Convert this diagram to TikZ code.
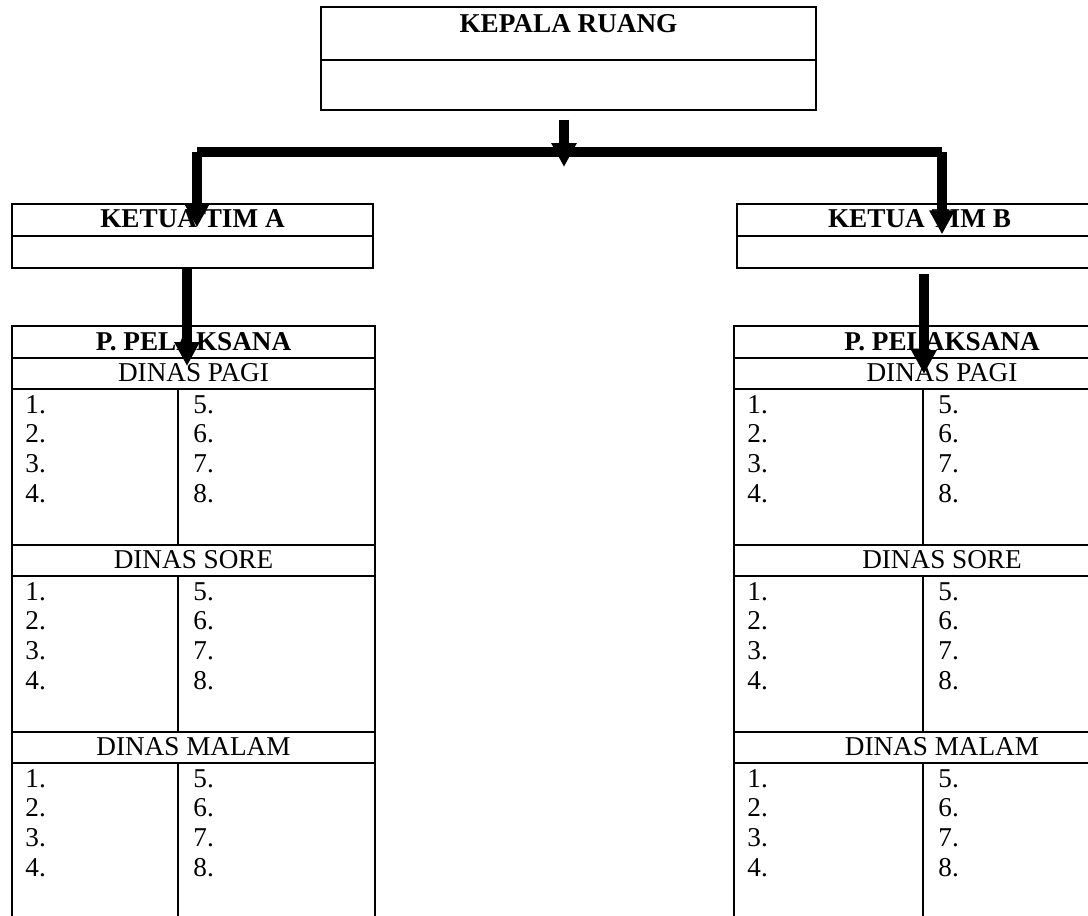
\documentclass[tikz,border=0pt]{standalone}
\usepackage{fontspec}
\setmainfont{Liberation Serif}
\usetikzlibrary{arrows.meta,calc}
\newcommand\orgsize{\fontsize{13.6pt}{16pt}\selectfont}
\begin{document}
\begin{tikzpicture}[x=0.5pt,y=-0.5pt,
  every node/.style={inner sep=0pt},
  thinbox/.style={draw=black, line width=0.65pt, rectangle},
  thinline/.style={draw=black, line width=0.65pt},
  tblbox/.style={draw=black, line width=1pt, rectangle},
  tblline/.style={draw=black, line width=1pt},
  txt/.style={anchor=base, font=\orgsize},
  boldtxt/.style={anchor=base, font=\orgsize\bfseries},
  numtxt/.style={anchor=base west, font=\orgsize},
  flow/.style={line width=4.75pt},
  flowarr/.style={line width=4.75pt, -{Triangle[width=12pt,length=12pt]}},
]
\useasboundingbox (0,0) rectangle (1088,916);
\clip (0,0) rectangle (1088,916);

% head of the ward
\node[thinbox, minimum width=247.5pt, minimum height=51.5pt] (kepala) at (568.5,58.5) {};
\draw[thinline] (kepala.west |- 0,60) -- (kepala.east |- 0,60);
\node[boldtxt] (kepalaT) at (568.5,32) {KEPALA RUANG};

% team leaders
\node[thinbox, minimum width=180.5pt, minimum height=32pt] (ketuaA) at (192.5,236) {};
\draw[thinline] (ketuaA.west) -- (ketuaA.east);
\node[boldtxt] (ketuaAT) at (192.5,227) {KETUA TIM A};

\node[thinbox, minimum width=182.5pt, minimum height=32pt] (ketuaB) at (919.5,236) {};
\draw[thinline] (ketuaB.west) -- (ketuaB.east);
\node[boldtxt] (ketuaBT) at (919.5,227) {KETUA TIM B};

% staff tables (run past the lower edge)
\node[tblbox, minimum width=181.5pt, minimum height=302pt] (tblA) at (193.5,628) {};
\node[tblbox, minimum width=208pt, minimum height=302pt] (tblB) at (942,628) {};

\foreach \tb/\cx/\dx/\lx/\rx in {tblA/193.5/178/25/193, tblB/942/923/747/938}{
  \node[boldtxt] (\tb-title) at (\cx,350) {P. PELAKSANA};
  \foreach \sh [count=\k from 0] in {PAGI,SORE,MALAM}{
    \pgfmathsetmacro{\ytop}{358+187*\k}
    \pgfmathsetmacro{\ymid}{\ytop+31}
    \pgfmathsetmacro{\ybot}{\ytop+187}
    \draw[tblline] (\tb.west |- 0,\ytop) -- (\tb.east |- 0,\ytop);
    \draw[tblline] (\tb.west |- 0,\ymid) -- (\tb.east |- 0,\ymid);
    \draw[tblline] (\dx,\ymid) -- (\dx,\ybot);
    \node[txt] (\tb-h\k) at (\cx,\ytop+23) {DINAS \sh};
    \foreach \n [count=\r from 0] in {1,...,4}{
      \pgfmathtruncatemacro{\m}{\n+4}
      \node[numtxt] (\tb-l\k-\r) at (\lx,\ymid+24+29.7*\r) {\n.};
      \node[numtxt] (\tb-r\k-\r) at (\rx,\ymid+24+29.7*\r) {\m.};
    }
  }
}

% connectors
\coordinate (jn) at (564,152);
\coordinate (cA) at (197,152);
\coordinate (cB) at (942,152);
\coordinate (dA) at (187,0);
\coordinate (dB) at (924,0);
\draw[flow] (cA) -- (cB);
\draw[flowarr] ($(kepala.south -| jn)+(0,9)$) -- ($(jn)+(0,15)$);
\draw[flowarr] (cA) -- ($(ketuaA.north -| cA)+(0,24)$);
\draw[flowarr] (cB) -- ($(ketuaB.north -| cB)+(0,31)$);
\draw[flowarr] (ketuaA.south -| dA) -- ($(tblA.north -| dA)+(0,41)$);
\draw[flowarr] ($(ketuaB.south -| dB)+(0,5)$) -- ($(tblB.north -| dB)+(0,49)$);
\end{tikzpicture}
\end{document}
